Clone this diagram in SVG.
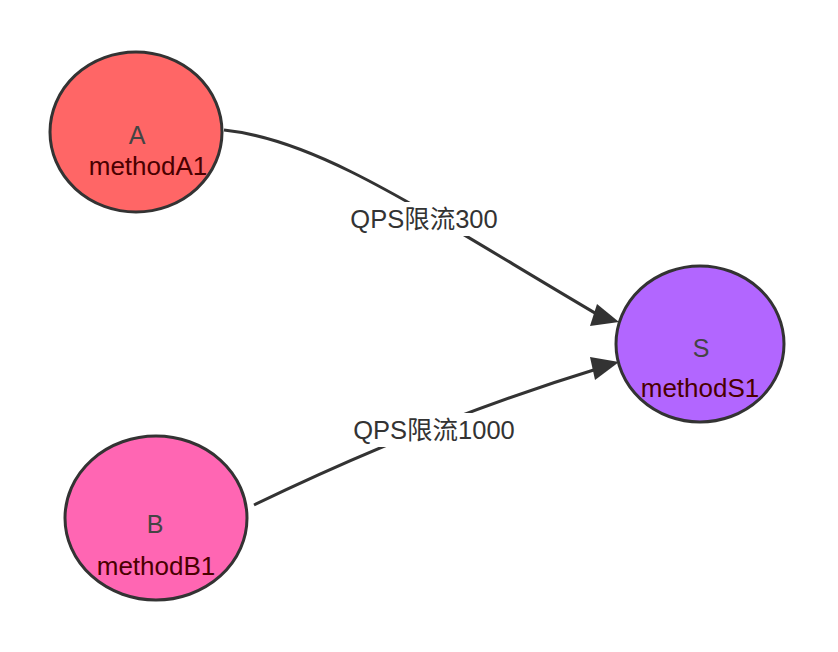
<svg xmlns="http://www.w3.org/2000/svg" width="838" height="652" viewBox="0 0 838 652">
<style>
.node{stroke:#333;stroke-width:3}
.t1{font-family:"Liberation Sans","Noto Sans CJK SC",sans-serif;font-size:25px;fill:#444;text-anchor:middle}
.t2{font-family:"Liberation Sans","Noto Sans CJK SC",sans-serif;font-size:26px;fill:#4a0000;text-anchor:middle}
.edge{fill:none;stroke:#333;stroke-width:3}
.lbl{font-family:"Liberation Sans","Noto Sans CJK SC",sans-serif;font-size:25.5px;fill:#333;text-anchor:middle}
</style>
<rect width="838" height="652" fill="#fff"/>
<g id="connectors">
<path class="edge" d="M224,130 C320,140 420,210 600,316" />
<polygon points="619,322 590,326 597,304" fill="#333"/>
<path class="edge" d="M254,505 Q430,420 600,368" />
<polygon points="619,362 595,380 590,357" fill="#333"/>
<rect x="346" y="202" width="156" height="34" fill="#fff"/>
<text class="lbl" x="424" y="228">QPS限流300</text>
<rect x="350" y="413" width="168" height="34" fill="#fff"/>
<text class="lbl" x="434" y="439">QPS限流1000</text>
</g>
<g id="A">
<ellipse class="node" cx="136" cy="132" rx="86" ry="80" fill="#ff6666"/>
<text class="t1" x="137" y="144">A</text>
<text class="t2" x="148" y="175">methodA1</text>
</g>
<g id="B">
<ellipse class="node" cx="156" cy="518" rx="91" ry="82" fill="#ff66b3"/>
<text class="t1" x="155" y="533">B</text>
<text class="t2" x="156" y="575">methodB1</text>
</g>
<g id="S">
<ellipse class="node" cx="700" cy="344" rx="84" ry="78" fill="#b266ff"/>
<text class="t1" x="701" y="357">S</text>
<text class="t2" x="700" y="397">methodS1</text>
</g>
</svg>
